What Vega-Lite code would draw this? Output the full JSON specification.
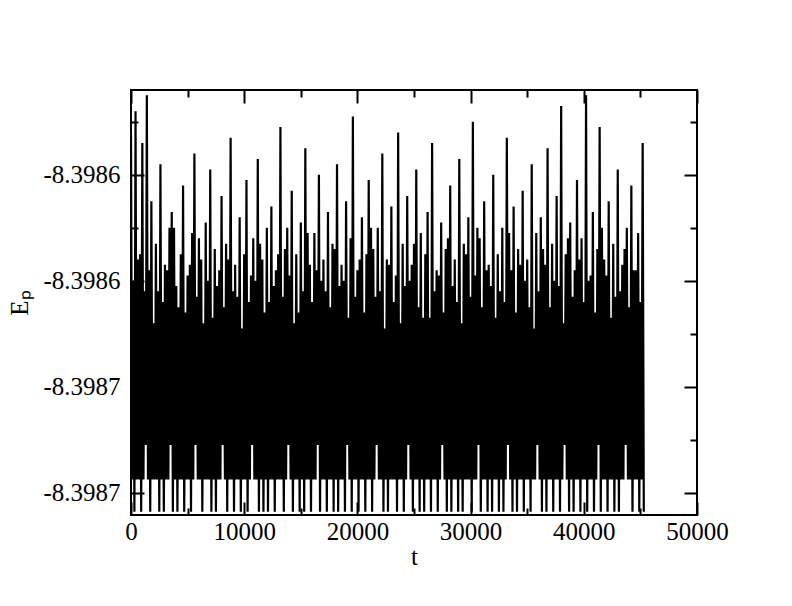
{
"$schema": "https://vega.github.io/schema/vega-lite/v6.json",
"width": 566, "height": 425,
"autosize": {"type": "none"},
"padding": {"left": 131, "top": 90, "right": 95, "bottom": 91},
"background": "white",
"config": {
 "view": {"stroke": "black", "strokeWidth": 2},
 "font": "serif",
 "axis": {"grid": false, "domain": false, "labelFlush": false, "labelOverlap": false, "tickColor": "black", "tickWidth": 2, "labelColor": "black", "titleColor": "black", "labelFont": "serif", "titleFont": "serif", "labelFontSize": 25, "titleFontSize": 25, "titleFontWeight": "normal"}
},
"data": {"values": [
{"t":0,"E":-8.398612},{"t":100,"E":-8.3986775},{"t":200,"E":-8.39864},{"t":300,"E":-8.3986836},{"t":400,"E":-8.398608},{"t":500,"E":-8.3986775},{"t":600,"E":-8.398636},{"t":700,"E":-8.3986775},{"t":800,"E":-8.398635},{"t":900,"E":-8.3986836},{"t":1000,"E":-8.398614},{"t":1100,"E":-8.3986775},{"t":1200,"E":-8.398642},{"t":1300,"E":-8.398671},{"t":1400,"E":-8.398605},{"t":1500,"E":-8.3986775},{"t":1600,"E":-8.398638},{"t":1700,"E":-8.3986836},{"t":1800,"E":-8.398625},{"t":1900,"E":-8.3986775},
{"t":2000,"E":-8.398648},{"t":2100,"E":-8.3986775},{"t":2200,"E":-8.398633},{"t":2300,"E":-8.3986775},{"t":2400,"E":-8.398642},{"t":2500,"E":-8.3986836},{"t":2600,"E":-8.398618},{"t":2700,"E":-8.3986775},{"t":2800,"E":-8.398644},{"t":2900,"E":-8.3986836},{"t":3000,"E":-8.398637},{"t":3100,"E":-8.3986775},{"t":3200,"E":-8.398638},{"t":3300,"E":-8.3986775},{"t":3400,"E":-8.39863},{"t":3500,"E":-8.398671},{"t":3600,"E":-8.398627},{"t":3700,"E":-8.3986836},{"t":3800,"E":-8.39863},{"t":3900,"E":-8.3986775},
{"t":4000,"E":-8.398641},{"t":4100,"E":-8.3986836},{"t":4200,"E":-8.398645},{"t":4300,"E":-8.3986775},{"t":4400,"E":-8.398635},{"t":4500,"E":-8.3986775},{"t":4600,"E":-8.398622},{"t":4700,"E":-8.3986836},{"t":4800,"E":-8.398646},{"t":4900,"E":-8.3986775},{"t":5000,"E":-8.398639},{"t":5100,"E":-8.3986775},{"t":5200,"E":-8.398637},{"t":5300,"E":-8.3986836},{"t":5400,"E":-8.398631},{"t":5500,"E":-8.3986775},{"t":5600,"E":-8.398616},{"t":5700,"E":-8.398671},{"t":5800,"E":-8.398643},{"t":5900,"E":-8.3986775},
{"t":6000,"E":-8.398632},{"t":6100,"E":-8.3986775},{"t":6200,"E":-8.398636},{"t":6300,"E":-8.3986836},{"t":6400,"E":-8.398648},{"t":6500,"E":-8.3986775},{"t":6600,"E":-8.398629},{"t":6700,"E":-8.3986775},{"t":6800,"E":-8.39864},{"t":6900,"E":-8.3986775},{"t":7000,"E":-8.398619},{"t":7100,"E":-8.3986836},{"t":7200,"E":-8.398647},{"t":7300,"E":-8.3986775},{"t":7400,"E":-8.398634},{"t":7500,"E":-8.3986836},{"t":7600,"E":-8.398641},{"t":7700,"E":-8.3986775},{"t":7800,"E":-8.398638},{"t":7900,"E":-8.3986775},
{"t":8000,"E":-8.398624},{"t":8100,"E":-8.398671},{"t":8200,"E":-8.398645},{"t":8300,"E":-8.3986775},{"t":8400,"E":-8.398633},{"t":8500,"E":-8.3986836},{"t":8600,"E":-8.398636},{"t":8700,"E":-8.3986775},{"t":8800,"E":-8.398613},{"t":8900,"E":-8.3986775},{"t":9000,"E":-8.398642},{"t":9100,"E":-8.3986836},{"t":9200,"E":-8.398637},{"t":9300,"E":-8.3986775},{"t":9400,"E":-8.398643},{"t":9500,"E":-8.3986775},{"t":9600,"E":-8.398628},{"t":9700,"E":-8.3986836},{"t":9800,"E":-8.398649},{"t":9900,"E":-8.3986775},
{"t":10000,"E":-8.398635},{"t":10100,"E":-8.3986775},{"t":10200,"E":-8.398621},{"t":10300,"E":-8.3986836},{"t":10400,"E":-8.398644},{"t":10500,"E":-8.3986775},{"t":10600,"E":-8.398639},{"t":10700,"E":-8.398671},{"t":10800,"E":-8.398632},{"t":10900,"E":-8.3986775},{"t":11000,"E":-8.39864},{"t":11100,"E":-8.3986775},{"t":11200,"E":-8.398617},{"t":11300,"E":-8.3986836},{"t":11400,"E":-8.398633},{"t":11500,"E":-8.3986775},{"t":11600,"E":-8.398636},{"t":11700,"E":-8.3986836},{"t":11800,"E":-8.398646},{"t":11900,"E":-8.3986775},
{"t":12000,"E":-8.39863},{"t":12100,"E":-8.3986836},{"t":12200,"E":-8.398644},{"t":12300,"E":-8.3986775},{"t":12400,"E":-8.398626},{"t":12500,"E":-8.3986775},{"t":12600,"E":-8.398641},{"t":12700,"E":-8.3986836},{"t":12800,"E":-8.398638},{"t":12900,"E":-8.3986775},{"t":13000,"E":-8.398635},{"t":13100,"E":-8.3986775},{"t":13200,"E":-8.398611},{"t":13300,"E":-8.3986775},{"t":13400,"E":-8.398643},{"t":13500,"E":-8.3986836},{"t":13600,"E":-8.398634},{"t":13700,"E":-8.3986775},{"t":13800,"E":-8.39863},{"t":13900,"E":-8.398671},
{"t":14000,"E":-8.398639},{"t":14100,"E":-8.3986775},{"t":14200,"E":-8.398623},{"t":14300,"E":-8.3986836},{"t":14400,"E":-8.398648},{"t":14500,"E":-8.3986775},{"t":14600,"E":-8.398635},{"t":14700,"E":-8.3986775},{"t":14800,"E":-8.398646},{"t":14900,"E":-8.3986836},{"t":15000,"E":-8.398629},{"t":15100,"E":-8.3986775},{"t":15200,"E":-8.398642},{"t":15300,"E":-8.3986836},{"t":15400,"E":-8.398615},{"t":15500,"E":-8.3986775},{"t":15600,"E":-8.398631},{"t":15700,"E":-8.3986775},{"t":15800,"E":-8.398637},{"t":15900,"E":-8.3986836},
{"t":16000,"E":-8.398644},{"t":16100,"E":-8.3986775},{"t":16200,"E":-8.398631},{"t":16300,"E":-8.3986775},{"t":16400,"E":-8.398638},{"t":16500,"E":-8.398671},{"t":16600,"E":-8.39862},{"t":16700,"E":-8.3986836},{"t":16800,"E":-8.39864},{"t":16900,"E":-8.3986775},{"t":17000,"E":-8.398636},{"t":17100,"E":-8.3986775},{"t":17200,"E":-8.398642},{"t":17300,"E":-8.3986836},{"t":17400,"E":-8.398627},{"t":17500,"E":-8.3986775},{"t":17600,"E":-8.398645},{"t":17700,"E":-8.3986775},{"t":17800,"E":-8.398633},{"t":17900,"E":-8.3986836},
{"t":18000,"E":-8.398634},{"t":18100,"E":-8.3986775},{"t":18200,"E":-8.398618},{"t":18300,"E":-8.3986836},{"t":18400,"E":-8.398641},{"t":18500,"E":-8.3986775},{"t":18600,"E":-8.398637},{"t":18700,"E":-8.3986775},{"t":18800,"E":-8.39864},{"t":18900,"E":-8.3986836},{"t":19000,"E":-8.398625},{"t":19100,"E":-8.398671},{"t":19200,"E":-8.398647},{"t":19300,"E":-8.3986775},{"t":19400,"E":-8.398632},{"t":19500,"E":-8.3986836},{"t":19600,"E":-8.398609},{"t":19700,"E":-8.3986775},{"t":19800,"E":-8.398643},{"t":19900,"E":-8.3986775},
{"t":20000,"E":-8.398638},{"t":20100,"E":-8.3986836},{"t":20200,"E":-8.398636},{"t":20300,"E":-8.3986775},{"t":20400,"E":-8.398628},{"t":20500,"E":-8.3986775},{"t":20600,"E":-8.398646},{"t":20700,"E":-8.3986836},{"t":20800,"E":-8.398635},{"t":20900,"E":-8.3986775},{"t":21000,"E":-8.398621},{"t":21100,"E":-8.3986775},{"t":21200,"E":-8.39863},{"t":21300,"E":-8.3986836},{"t":21400,"E":-8.398634},{"t":21500,"E":-8.3986775},{"t":21600,"E":-8.398643},{"t":21700,"E":-8.398671},{"t":21800,"E":-8.39863},{"t":21900,"E":-8.3986775},
{"t":22000,"E":-8.398642},{"t":22100,"E":-8.3986775},{"t":22200,"E":-8.398616},{"t":22300,"E":-8.3986836},{"t":22400,"E":-8.398649},{"t":22500,"E":-8.3986775},{"t":22600,"E":-8.398636},{"t":22700,"E":-8.3986836},{"t":22800,"E":-8.398637},{"t":22900,"E":-8.3986775},{"t":23000,"E":-8.398626},{"t":23100,"E":-8.3986775},{"t":23200,"E":-8.398644},{"t":23300,"E":-8.3986775},{"t":23400,"E":-8.398639},{"t":23500,"E":-8.3986836},{"t":23600,"E":-8.398612},{"t":23700,"E":-8.3986775},{"t":23800,"E":-8.398648},{"t":23900,"E":-8.3986775},
{"t":24000,"E":-8.398633},{"t":24100,"E":-8.3986836},{"t":24200,"E":-8.398641},{"t":24300,"E":-8.3986775},{"t":24400,"E":-8.398624},{"t":24500,"E":-8.398671},{"t":24600,"E":-8.39864},{"t":24700,"E":-8.3986775},{"t":24800,"E":-8.398637},{"t":24900,"E":-8.3986836},{"t":25000,"E":-8.398633},{"t":25100,"E":-8.3986775},{"t":25200,"E":-8.398619},{"t":25300,"E":-8.3986775},{"t":25400,"E":-8.398645},{"t":25500,"E":-8.3986836},{"t":25600,"E":-8.398631},{"t":25700,"E":-8.3986775},{"t":25800,"E":-8.398647},{"t":25900,"E":-8.3986836},
{"t":26000,"E":-8.398635},{"t":26100,"E":-8.3986775},{"t":26200,"E":-8.398627},{"t":26300,"E":-8.3986775},{"t":26400,"E":-8.398647},{"t":26500,"E":-8.3986836},{"t":26600,"E":-8.398614},{"t":26700,"E":-8.3986775},{"t":26800,"E":-8.398642},{"t":26900,"E":-8.3986775},{"t":27000,"E":-8.398638},{"t":27100,"E":-8.3986836},{"t":27200,"E":-8.398639},{"t":27300,"E":-8.3986775},{"t":27400,"E":-8.398629},{"t":27500,"E":-8.398671},{"t":27600,"E":-8.398646},{"t":27700,"E":-8.3986775},{"t":27800,"E":-8.398634},{"t":27900,"E":-8.3986836},
{"t":28000,"E":-8.398632},{"t":28100,"E":-8.3986775},{"t":28200,"E":-8.398622},{"t":28300,"E":-8.3986836},{"t":28400,"E":-8.398641},{"t":28500,"E":-8.3986775},{"t":28600,"E":-8.398636},{"t":28700,"E":-8.3986775},{"t":28800,"E":-8.398644},{"t":28900,"E":-8.3986836},{"t":29000,"E":-8.398617},{"t":29100,"E":-8.3986775},{"t":29200,"E":-8.398648},{"t":29300,"E":-8.3986836},{"t":29400,"E":-8.398633},{"t":29500,"E":-8.3986775},{"t":29600,"E":-8.398635},{"t":29700,"E":-8.3986775},{"t":29800,"E":-8.398628},{"t":29900,"E":-8.3986775},
{"t":30000,"E":-8.398643},{"t":30100,"E":-8.3986836},{"t":30200,"E":-8.39861},{"t":30300,"E":-8.3986775},{"t":30400,"E":-8.398639},{"t":30500,"E":-8.3986775},{"t":30600,"E":-8.39863},{"t":30700,"E":-8.398671},{"t":30800,"E":-8.398632},{"t":30900,"E":-8.3986836},{"t":31000,"E":-8.398645},{"t":31100,"E":-8.3986775},{"t":31200,"E":-8.398625},{"t":31300,"E":-8.3986775},{"t":31400,"E":-8.398638},{"t":31500,"E":-8.3986836},{"t":31600,"E":-8.398637},{"t":31700,"E":-8.3986775},{"t":31800,"E":-8.398641},{"t":31900,"E":-8.3986836},
{"t":32000,"E":-8.39862},{"t":32100,"E":-8.3986775},{"t":32200,"E":-8.398647},{"t":32300,"E":-8.3986775},{"t":32400,"E":-8.398635},{"t":32500,"E":-8.3986836},{"t":32600,"E":-8.398642},{"t":32700,"E":-8.3986775},{"t":32800,"E":-8.39863},{"t":32900,"E":-8.3986836},{"t":33000,"E":-8.398644},{"t":33100,"E":-8.3986775},{"t":33200,"E":-8.398613},{"t":33300,"E":-8.398671},{"t":33400,"E":-8.398631},{"t":33500,"E":-8.3986775},{"t":33600,"E":-8.398638},{"t":33700,"E":-8.3986836},{"t":33800,"E":-8.398626},{"t":33900,"E":-8.3986775},
{"t":34000,"E":-8.398646},{"t":34100,"E":-8.3986836},{"t":34200,"E":-8.398634},{"t":34300,"E":-8.3986775},{"t":34400,"E":-8.398637},{"t":34500,"E":-8.3986775},{"t":34600,"E":-8.398623},{"t":34700,"E":-8.3986836},{"t":34800,"E":-8.39864},{"t":34900,"E":-8.3986775},{"t":35000,"E":-8.398636},{"t":35100,"E":-8.3986775},{"t":35200,"E":-8.398645},{"t":35300,"E":-8.3986836},{"t":35400,"E":-8.398618},{"t":35500,"E":-8.3986775},{"t":35600,"E":-8.398649},{"t":35700,"E":-8.3986775},{"t":35800,"E":-8.398631},{"t":35900,"E":-8.398671},
{"t":36000,"E":-8.398642},{"t":36100,"E":-8.3986775},{"t":36200,"E":-8.398628},{"t":36300,"E":-8.3986836},{"t":36400,"E":-8.398634},{"t":36500,"E":-8.3986775},{"t":36600,"E":-8.398637},{"t":36700,"E":-8.3986836},{"t":36800,"E":-8.398615},{"t":36900,"E":-8.3986775},{"t":37000,"E":-8.398645},{"t":37100,"E":-8.3986775},{"t":37200,"E":-8.398633},{"t":37300,"E":-8.3986836},{"t":37400,"E":-8.39864},{"t":37500,"E":-8.3986775},{"t":37600,"E":-8.398624},{"t":37700,"E":-8.3986775},{"t":37800,"E":-8.398641},{"t":37900,"E":-8.3986836},
{"t":38000,"E":-8.398607},{"t":38100,"E":-8.3986775},{"t":38200,"E":-8.398648},{"t":38300,"E":-8.398671},{"t":38400,"E":-8.398635},{"t":38500,"E":-8.3986775},{"t":38600,"E":-8.398632},{"t":38700,"E":-8.3986836},{"t":38800,"E":-8.398629},{"t":38900,"E":-8.3986775},{"t":39000,"E":-8.398643},{"t":39100,"E":-8.3986836},{"t":39200,"E":-8.398638},{"t":39300,"E":-8.3986775},{"t":39400,"E":-8.398621},{"t":39500,"E":-8.3986775},{"t":39600,"E":-8.398636},{"t":39700,"E":-8.3986836},{"t":39800,"E":-8.398632},{"t":39900,"E":-8.3986775},
{"t":40000,"E":-8.398644},{"t":40100,"E":-8.3986775},{"t":40200,"E":-8.398605},{"t":40300,"E":-8.3986836},{"t":40400,"E":-8.39864},{"t":40500,"E":-8.3986775},{"t":40600,"E":-8.398639},{"t":40700,"E":-8.3986775},{"t":40800,"E":-8.398627},{"t":40900,"E":-8.3986836},{"t":41000,"E":-8.398646},{"t":41100,"E":-8.3986775},{"t":41200,"E":-8.398634},{"t":41300,"E":-8.398671},{"t":41400,"E":-8.398611},{"t":41500,"E":-8.3986836},{"t":41600,"E":-8.39863},{"t":41700,"E":-8.3986775},{"t":41800,"E":-8.398636},{"t":41900,"E":-8.3986775},
{"t":42000,"E":-8.398639},{"t":42100,"E":-8.3986836},{"t":42200,"E":-8.398625},{"t":42300,"E":-8.3986775},{"t":42400,"E":-8.398647},{"t":42500,"E":-8.3986775},{"t":42600,"E":-8.398633},{"t":42700,"E":-8.3986836},{"t":42800,"E":-8.398643},{"t":42900,"E":-8.3986775},{"t":43000,"E":-8.398619},{"t":43100,"E":-8.3986836},{"t":43200,"E":-8.398642},{"t":43300,"E":-8.3986775},{"t":43400,"E":-8.398637},{"t":43500,"E":-8.3986775},{"t":43600,"E":-8.398634},{"t":43700,"E":-8.398671},{"t":43800,"E":-8.39863},{"t":43900,"E":-8.3986775},
{"t":44000,"E":-8.398645},{"t":44100,"E":-8.3986775},{"t":44200,"E":-8.398622},{"t":44300,"E":-8.3986836},{"t":44400,"E":-8.398638},{"t":44500,"E":-8.3986775},{"t":44600,"E":-8.398638},{"t":44700,"E":-8.3986775},{"t":44800,"E":-8.398631},{"t":44900,"E":-8.3986836},{"t":45000,"E":-8.398644},{"t":45100,"E":-8.3986775},{"t":45200,"E":-8.398614},{"t":45300,"E":-8.3986836}
]},
"layer": [
 {
  "mark": {"type": "line", "color": "black", "strokeWidth": 2.2, "clip": true},
  "encoding": {
   "x": {"field": "t", "type": "quantitative", "scale": {"domain": [0, 50000], "nice": false, "zero": false},
    "axis": {"orient": "bottom", "values": [0, 10000, 20000, 30000, 40000, 50000], "format": "d", "tickSize": -13, "labelPadding": 17, "labelFlush": false, "labelFont": "Times New Roman, Liberation Serif, serif", "titleFont": "Times New Roman, Liberation Serif, serif", "title": "t", "titlePadding": 0}},
   "y": {"field": "E", "type": "quantitative", "scale": {"domain": [-8.3986842, -8.398604], "nice": false, "zero": false},
    "axis": {"orient": "left", "values": [-8.39868, -8.39866, -8.39864, -8.39862], "labelExpr": "replace(format(datum.value, '.4f'), '\u2212', '-')", "tickSize": -13, "labelPadding": 24, "labelFlush": false, "labelFont": "Times New Roman, Liberation Serif, serif", "titleFont": "Times New Roman, Liberation Serif, serif", "title": "E\u209a", "titlePadding": 10}}
  }
 },
 {
  "mark": {"type": "point", "opacity": 0, "size": 0},
  "encoding": {
   "x": {"field": "t", "type": "quantitative", "axis": {"orient": "bottom", "values": [5000, 15000, 25000, 35000, 45000], "labels": false, "tickSize": -7, "title": null}},
   "y": {"field": "E", "type": "quantitative", "axis": {"orient": "left", "values": [-8.39867, -8.39865, -8.39863, -8.39861], "labels": false, "tickSize": -7, "title": null}}
  }
 },
 {
  "mark": {"type": "point", "opacity": 0, "size": 0},
  "encoding": {
   "x": {"field": "t", "type": "quantitative", "axis": {"orient": "top", "values": [0, 10000, 20000, 30000, 40000, 50000], "labels": false, "tickSize": -13, "title": null}},
   "y": {"field": "E", "type": "quantitative", "axis": {"orient": "right", "values": [-8.39868, -8.39866, -8.39864, -8.39862], "labels": false, "tickSize": -13, "title": null}}
  }
 },
 {
  "mark": {"type": "point", "opacity": 0, "size": 0},
  "encoding": {
   "x": {"field": "t", "type": "quantitative", "axis": {"orient": "top", "values": [5000, 15000, 25000, 35000, 45000], "labels": false, "tickSize": -7, "title": null}},
   "y": {"field": "E", "type": "quantitative", "axis": {"orient": "right", "values": [-8.39867, -8.39865, -8.39863, -8.39861], "labels": false, "tickSize": -7, "title": null}}
  }
 }
],
"resolve": {"axis": {"x": "independent", "y": "independent"}}
}
